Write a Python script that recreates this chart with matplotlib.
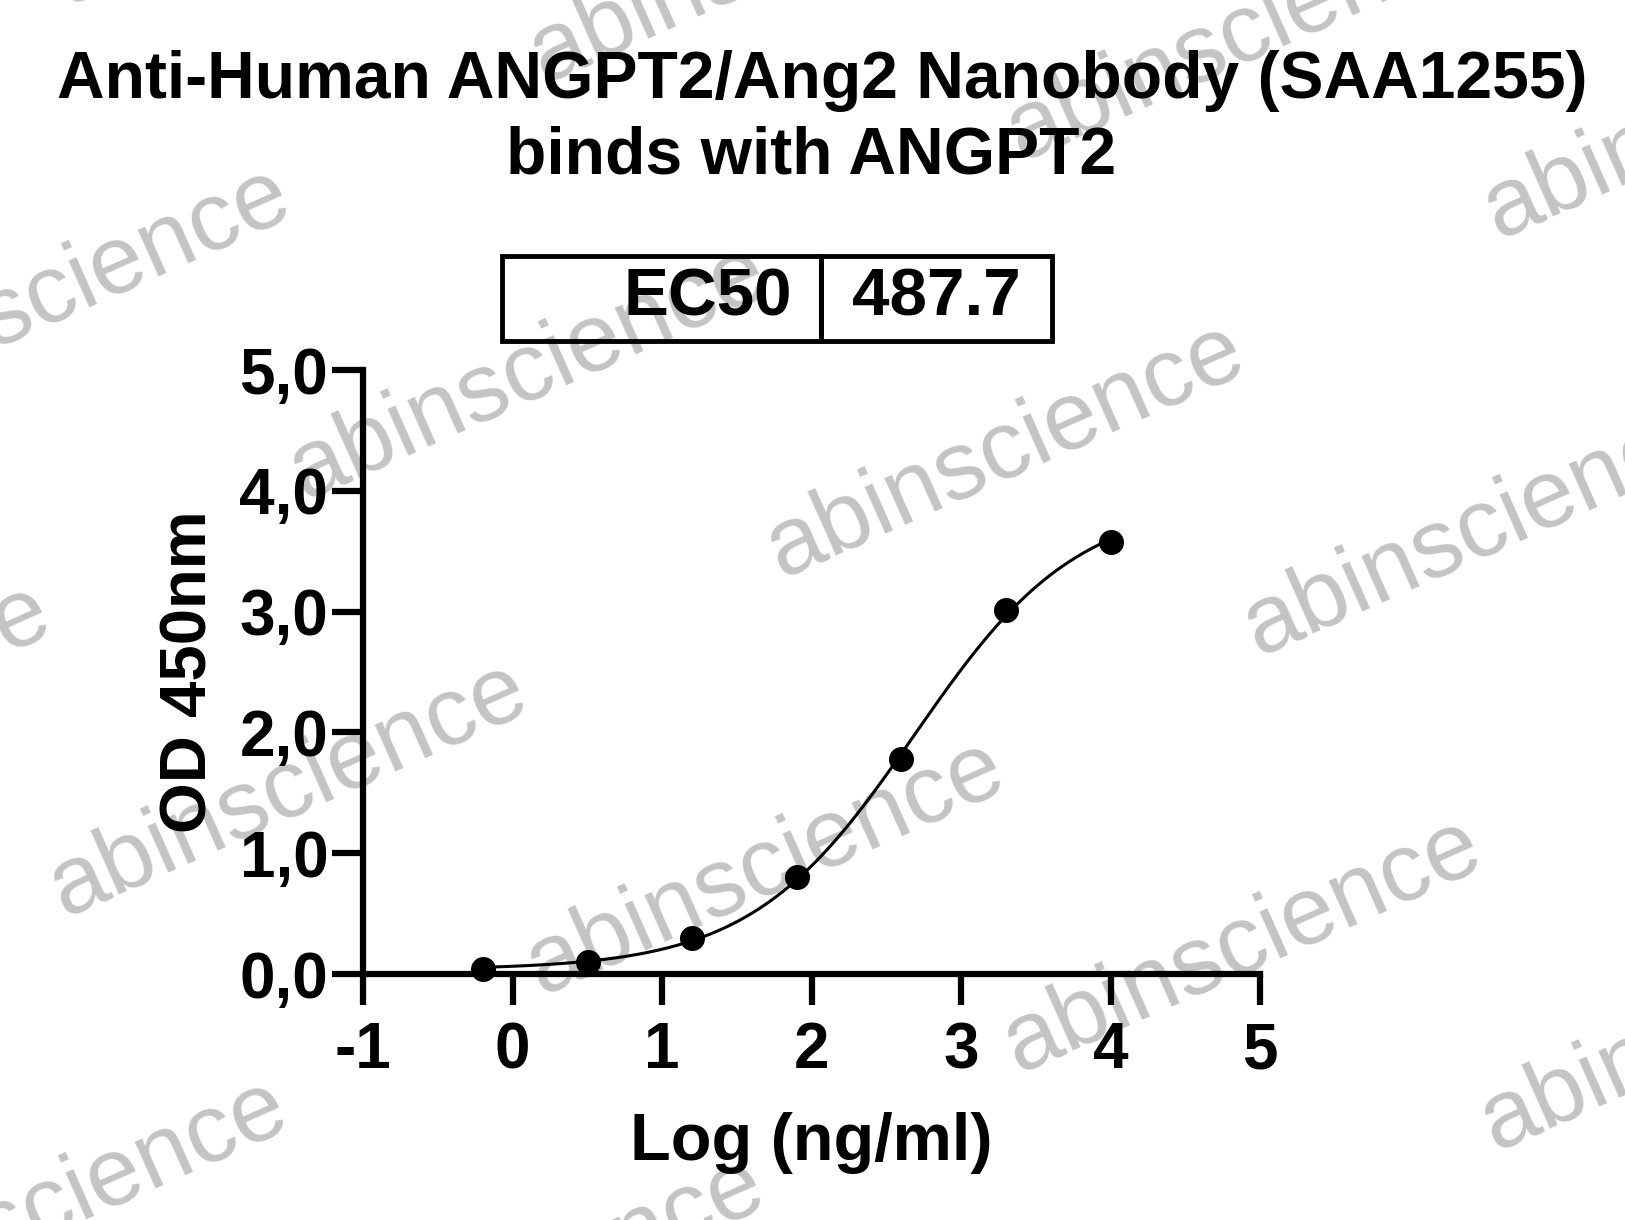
import numpy as np
import matplotlib
matplotlib.use('Agg')
import matplotlib.pyplot as plt
from matplotlib.ticker import FuncFormatter

plt.rcParams['font.family'] = ['Liberation Sans', 'DejaVu Sans']
plt.rcParams['font.weight'] = 'bold'

# data (log10 of ng/ml, OD at 450 nm)
log_conc = [-0.194, 0.505, 1.204, 1.903, 2.602, 3.301, 4.0]
od450 = [0.04, 0.10, 0.30, 0.80, 1.78, 3.01, 3.58]
ec50 = 487.7

title_lines = ['Anti-Human ANGPT2/Ang2 Nanobody (SAA1255)', 'binds with ANGPT2']
x_ticks = [-1, 0, 1, 2, 3, 4, 5]
y_ticks = [0, 1, 2, 3, 4, 5]

# 4PL fit with the reported EC50: grid over hill slope, bottom/top by least squares
x = np.array(log_conc)
y = np.array(od450)
log_ec50 = np.log10(ec50)
best = None
for h in np.linspace(0.3, 3.0, 541):
    f = 1.0 / (1.0 + 10 ** ((log_ec50 - x) * h))
    A = np.column_stack([1 - f, f])
    coef = np.linalg.lstsq(A, y, rcond=None)[0]
    sse = np.sum((A @ coef - y) ** 2)
    if best is None or sse < best[0]:
        best = (sse, h, coef)
_, hill, (bottom, top) = best
xf = np.linspace(x.min(), x.max(), 300)
yf = bottom + (top - bottom) / (1.0 + 10 ** ((log_ec50 - xf) * hill))

W, H = 1625, 1220
fig = plt.figure(figsize=(W / 100, H / 100), dpi=100)

# watermark lattice
ox, oy = 529, 373
ux, uy = 477, 78
vx, vy = -240, 417
for i in range(-3, 5):
    for j in range(-2, 4):
        px = ox + i * ux + j * vx
        py = oy + i * uy + j * vy
        if -400 < px < W + 400 and -200 < py < H + 200:
            fig.text(px / W, 1 - py / H, 'abinscience', fontsize=70, fontweight='normal',
                     color='#c4c4c4', rotation=24, ha='center', va='center',
                     rotation_mode='anchor', zorder=-1)

ax = fig.add_axes([363 / W, 1 - 974 / H, (1260 - 363) / W, (974 - 370) / H])
ax.patch.set_alpha(0)
ax.plot(xf, yf, color='black', lw=2.2, clip_on=False, zorder=3)
ax.plot(x, y, 'o', color='black', markersize=17, clip_on=False, zorder=4)

ax.set_xlim(-1, 5)
ax.set_ylim(0, 5)
ax.set_xticks(x_ticks)
ax.set_xticklabels([str(t) for t in x_ticks])
ax.set_yticks(y_ticks)
ax.yaxis.set_major_formatter(FuncFormatter(lambda v, p: f'{v:.1f}'.replace('.', ',')))
for s in ['top', 'right']:
    ax.spines[s].set_visible(False)
for s in ['left', 'bottom']:
    ax.spines[s].set_linewidth(4.5)
ax.tick_params(direction='out', length=22, width=4.5, labelsize=46)
ax.tick_params(axis='x', pad=12)
ax.tick_params(axis='y', pad=3)
ax.set_xlabel('Log (ng/ml)', fontsize=48, fontweight='bold', labelpad=22)
ax.set_ylabel('OD 450nm', fontsize=47, fontweight='bold', labelpad=14)

# title, two lines placed separately
fig.text(822 / W, 1 - 50 / H, title_lines[0], ha='center', va='top', fontsize=47.5,
         fontweight='bold')
fig.text(811 / W, 1 - 125 / H, title_lines[1], ha='center', va='top', fontsize=47.5,
         fontweight='bold')

# EC50 table
tab = ax.table(cellText=[['EC50', '487.7']], cellLoc='center',
               bbox=[(502 - 363) / (1260 - 363), (974 - 341) / (974 - 370),
                     (1052 - 502) / (1260 - 363), (341 - 256) / (974 - 370)],
               colWidths=[(821 - 502), (1052 - 821)])
tab.auto_set_font_size(False)
for (r, c), cell in tab.get_celld().items():
    cell.set_linewidth(3.5)
    cell.set_facecolor('none')
    cell.get_text().set_fontsize(48.5)
    cell.get_text().set_fontweight('bold')
    if c == 0:
        cell.get_text().set_ha('right')
        cell.PAD = 0.09

fig.savefig('out.png', dpi=100)
